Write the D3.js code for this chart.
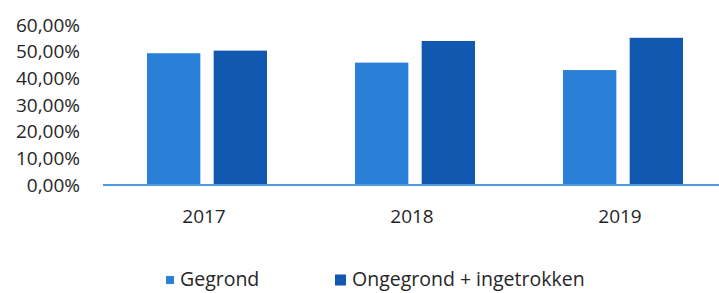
<!DOCTYPE html>
<html>
<head>
<meta charset="utf-8">
<script src="https://d3js.org/d3.v7.min.js"></script>
<style>
  body { margin: 0; background: #fff; }
  text { font-family: "Open Sans", sans-serif; fill: #262626; }
</style>
</head>
<body>
<svg id="chart" width="719" height="293"></svg>
<script>
const years = ["2017", "2018", "2019"];
const series = ["Gegrond", "Ongegrond + ingetrokken"];
const gegrond = [49.4, 45.9, 43.1];
const ongegrond = [50.4, 54.0, 55.2];
const yTicks = [0, 10, 20, 30, 40, 50, 60];
const colors = ["#2a80d6", "#1258b0"];

const svg = d3.select("#chart");

const x = d3.scaleBand().domain(years).range([103, 727]);
const xInner = d3.scaleBand().domain(series).range([-60, 60]).paddingInner(0.2);
const y = d3.scaleLinear().domain([0, 60]).range([185, 25]);

// y tick labels
svg.append("g")
  .selectAll("text")
  .data(yTicks)
  .join("text")
    .attr("x", 80)
    .attr("y", d => y(d))
    .attr("dy", "0.35em")
    .attr("text-anchor", "end")
    .style("font-size", "19px")
    .text(d => d3.format(".2f")(d).replace(".", ",") + "%");

const rows = years.map((yr, i) => ({ year: yr, values: [gegrond[i], ongegrond[i]] }));

// bars
svg.append("g")
  .selectAll("g")
  .data(rows)
  .join("g")
    .attr("transform", d => `translate(${x(d.year) + x.bandwidth() / 2},0)`)
  .selectAll("rect")
  .data(d => d.values.map((v, j) => ({ key: series[j], v, j })))
  .join("rect")
    .attr("x", d => xInner(d.key))
    .attr("width", xInner.bandwidth())
    .attr("y", d => y(d.v))
    .attr("height", d => y(0) - y(d.v))
    .attr("fill", d => colors[d.j]);

// baseline
svg.append("line")
  .attr("x1", 103).attr("x2", 719)
  .attr("y1", y(0)).attr("y2", y(0))
  .attr("stroke", "#4f9ad8")
  .attr("stroke-width", 2);

// x labels
svg.append("g")
  .selectAll("text")
  .data(years)
  .join("text")
    .attr("x", d => x(d) + x.bandwidth() / 2 - 3)
    .attr("y", 223)
    .attr("text-anchor", "middle")
    .style("font-size", "19px")
    .text(d => d);

// legend
const legend = [
  { name: series[0], color: colors[0], x: 166, size: 8 },
  { name: series[1], color: colors[1], x: 335, size: 11 }
];
const lg = svg.append("g")
  .selectAll("g")
  .data(legend)
  .join("g");
lg.append("rect")
  .attr("x", d => d.x)
  .attr("y", d => 280 - d.size / 2)
  .attr("width", d => d.size)
  .attr("height", d => d.size)
  .attr("fill", d => d.color);
lg.append("text")
  .attr("x", d => d.x + d.size + 6)
  .attr("y", 286)
  .style("font-size", "19.5px")
  .text(d => d.name);
</script>
</body>
</html>
